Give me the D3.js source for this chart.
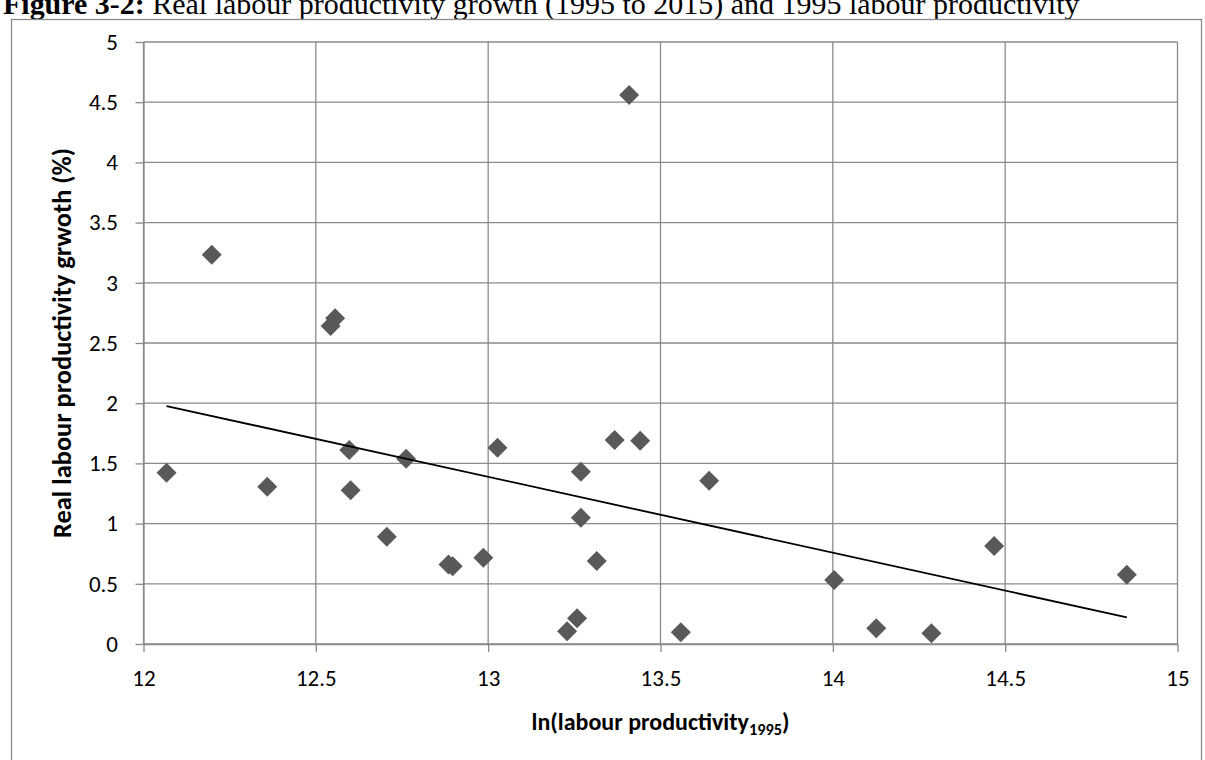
<!DOCTYPE html>
<html>
<head>
<meta charset="utf-8">
<script src="https://cdn.jsdelivr.net/npm/d3@7"></script>
<style>
  html, body { margin: 0; padding: 0; background: #ffffff; }
  svg { display: block; }
</style>
</head>
<body>
<svg id="chart" width="1205" height="760"></svg>
<script>
// ln of 1995 labour productivity per sector
const lnProductivity1995 = [
  12.067, 12.198, 12.359, 12.543, 12.556, 12.597, 12.601, 12.706, 12.762,
  12.885, 12.897, 12.986, 13.027, 13.229, 13.258, 13.269, 13.269, 13.315,
  13.367, 13.409, 13.441, 13.559, 13.641, 14.004, 14.126, 14.286, 14.468, 14.853
];
// Real labour productivity growth 1995-2015 (%)
const growthRate = [
  1.423, 3.233, 1.307, 2.641, 2.705, 1.611, 1.276, 0.891, 1.539,
  0.660, 0.645, 0.717, 1.630, 0.105, 0.213, 1.431, 1.049, 0.689,
  1.694, 4.560, 1.689, 0.097, 1.356, 0.532, 0.130, 0.089, 0.814, 0.576
];

const xTickValues = [12, 12.5, 13, 13.5, 14, 14.5, 15];
const yTickValues = [0, 0.5, 1, 1.5, 2, 2.5, 3, 3.5, 4, 4.5, 5];

const titleLead = "Figure 3-2:";
const titleText = " Real labour productivity growth (1995 to 2015) and 1995 labour productivity";
const xAxisTitle = "ln(labour productivity";
const xAxisSubscript = "1995";
const yAxisTitle = "Real labour productivity grwoth (%)";

const uiFont = "Carlito, Calibri, Lato, 'Open Sans', sans-serif";
const gridColor = "#8a8a8a";
const markerColor = "#595959";

const svg = d3.select("#chart");

const plot = { left: 143.5, right: 1177.5, top: 42, bottom: 644 };
const x = d3.scaleLinear().domain([12, 15]).range([plot.left, plot.right]);
const y = d3.scaleLinear().domain([0, 5]).range([plot.bottom, plot.top]);

// Scale a text's font so that it spans the given width
function fitWidth(sel, baseSize, width) {
  const len = sel.node().getComputedTextLength();
  sel.style("font-size", (baseSize * width / len) + "px");
}

// Caption above the frame
const title = svg.append("text")
  .attr("x", 3)
  .attr("y", 13.5)
  .style("font-family", "'Times New Roman', 'Liberation Serif', serif")
  .style("font-size", "26px")
  .attr("fill", "#000");
title.append("tspan").attr("font-weight", "bold").text(titleLead);
title.append("tspan").text(titleText);
fitWidth(title, 26, 1077);

// Chart frame
svg.append("rect")
  .attr("x", 11.5)
  .attr("y", 19.5)
  .attr("width", 1190)
  .attr("height", 800)
  .attr("fill", "none")
  .attr("stroke", gridColor)
  .attr("stroke-width", 1.3);

// Gridlines
const grid = svg.append("g").attr("stroke", gridColor).attr("stroke-width", 1.3);
grid.selectAll("line.h")
  .data(yTickValues)
  .join("line")
  .attr("class", "h")
  .attr("x1", plot.left)
  .attr("x2", plot.right)
  .attr("y1", d => y(d))
  .attr("y2", d => y(d));
grid.selectAll("line.v")
  .data(xTickValues)
  .join("line")
  .attr("class", "v")
  .attr("x1", d => x(d))
  .attr("x2", d => x(d))
  .attr("y1", plot.top)
  .attr("y2", plot.bottom);

// Axes
const yAxis = svg.append("g")
  .attr("transform", `translate(${plot.left},0)`)
  .call(d3.axisLeft(y).tickValues(yTickValues).tickSize(8).tickSizeOuter(0).tickPadding(17.5)
    .tickFormat(d3.format("~g")));
const xAxis = svg.append("g")
  .attr("transform", `translate(0,${plot.bottom})`)
  .call(d3.axisBottom(x).tickValues(xTickValues).tickSize(8).tickSizeOuter(0).tickPadding(18)
    .tickFormat(d3.format("~g")));

[yAxis, xAxis].forEach(g => {
  g.select(".domain").attr("stroke", gridColor).attr("stroke-width", 1.3);
  g.selectAll(".tick line").attr("stroke", gridColor).attr("stroke-width", 1.3);
  g.selectAll(".tick text")
    .attr("fill", "#000")
    .style("font-family", uiFont)
    .style("font-size", "23px");
});

// Linear least-squares trendline across the data range
const n = lnProductivity1995.length;
const mx = d3.mean(lnProductivity1995);
const my = d3.mean(growthRate);
let sxy = 0, sxx = 0;
for (let i = 0; i < n; i++) {
  sxy += (lnProductivity1995[i] - mx) * (growthRate[i] - my);
  sxx += (lnProductivity1995[i] - mx) ** 2;
}
const slope = sxy / sxx;
const intercept = my - slope * mx;
const [xMin, xMax] = d3.extent(lnProductivity1995);

// Markers
const points = lnProductivity1995.map((v, i) => ({ x: v, y: growthRate[i] }));
const diamond = d3.symbol().type(d3.symbolSquare).size(200);
svg.append("g")
  .selectAll("path")
  .data(points)
  .join("path")
  .attr("d", diamond)
  .attr("transform", d => `translate(${x(d.x)},${y(d.y)}) rotate(45)`)
  .attr("fill", markerColor);

svg.append("line")
  .attr("x1", x(xMin))
  .attr("y1", y(intercept + slope * xMin))
  .attr("x2", x(xMax))
  .attr("y2", y(intercept + slope * xMax))
  .attr("stroke", "#000")
  .attr("stroke-width", 1.8);

// Axis titles
const xt = svg.append("text")
  .attr("x", (plot.left + plot.right) / 2)
  .attr("y", 730)
  .attr("text-anchor", "middle")
  .style("font-family", uiFont)
  .style("font-size", "22px")
  .style("font-weight", "bold")
  .attr("fill", "#000");
xt.append("tspan").text(xAxisTitle);
xt.append("tspan").attr("dy", 5).style("font-size", "15px").text(xAxisSubscript);
xt.append("tspan").attr("dy", -5).text(")");
fitWidth(xt, 22, 258);
xt.selectAll("tspan").filter((d, i) => i === 1)
  .style("font-size", (parseFloat(xt.style("font-size")) * 0.68) + "px");

const yt = svg.append("text")
  .attr("transform", `translate(71,${(plot.top + plot.bottom) / 2}) rotate(-90)`)
  .attr("text-anchor", "middle")
  .style("font-family", uiFont)
  .style("font-size", "22px")
  .style("font-weight", "bold")
  .attr("fill", "#000")
  .text(yAxisTitle);
fitWidth(yt, 22, 390);
</script>
</body>
</html>
